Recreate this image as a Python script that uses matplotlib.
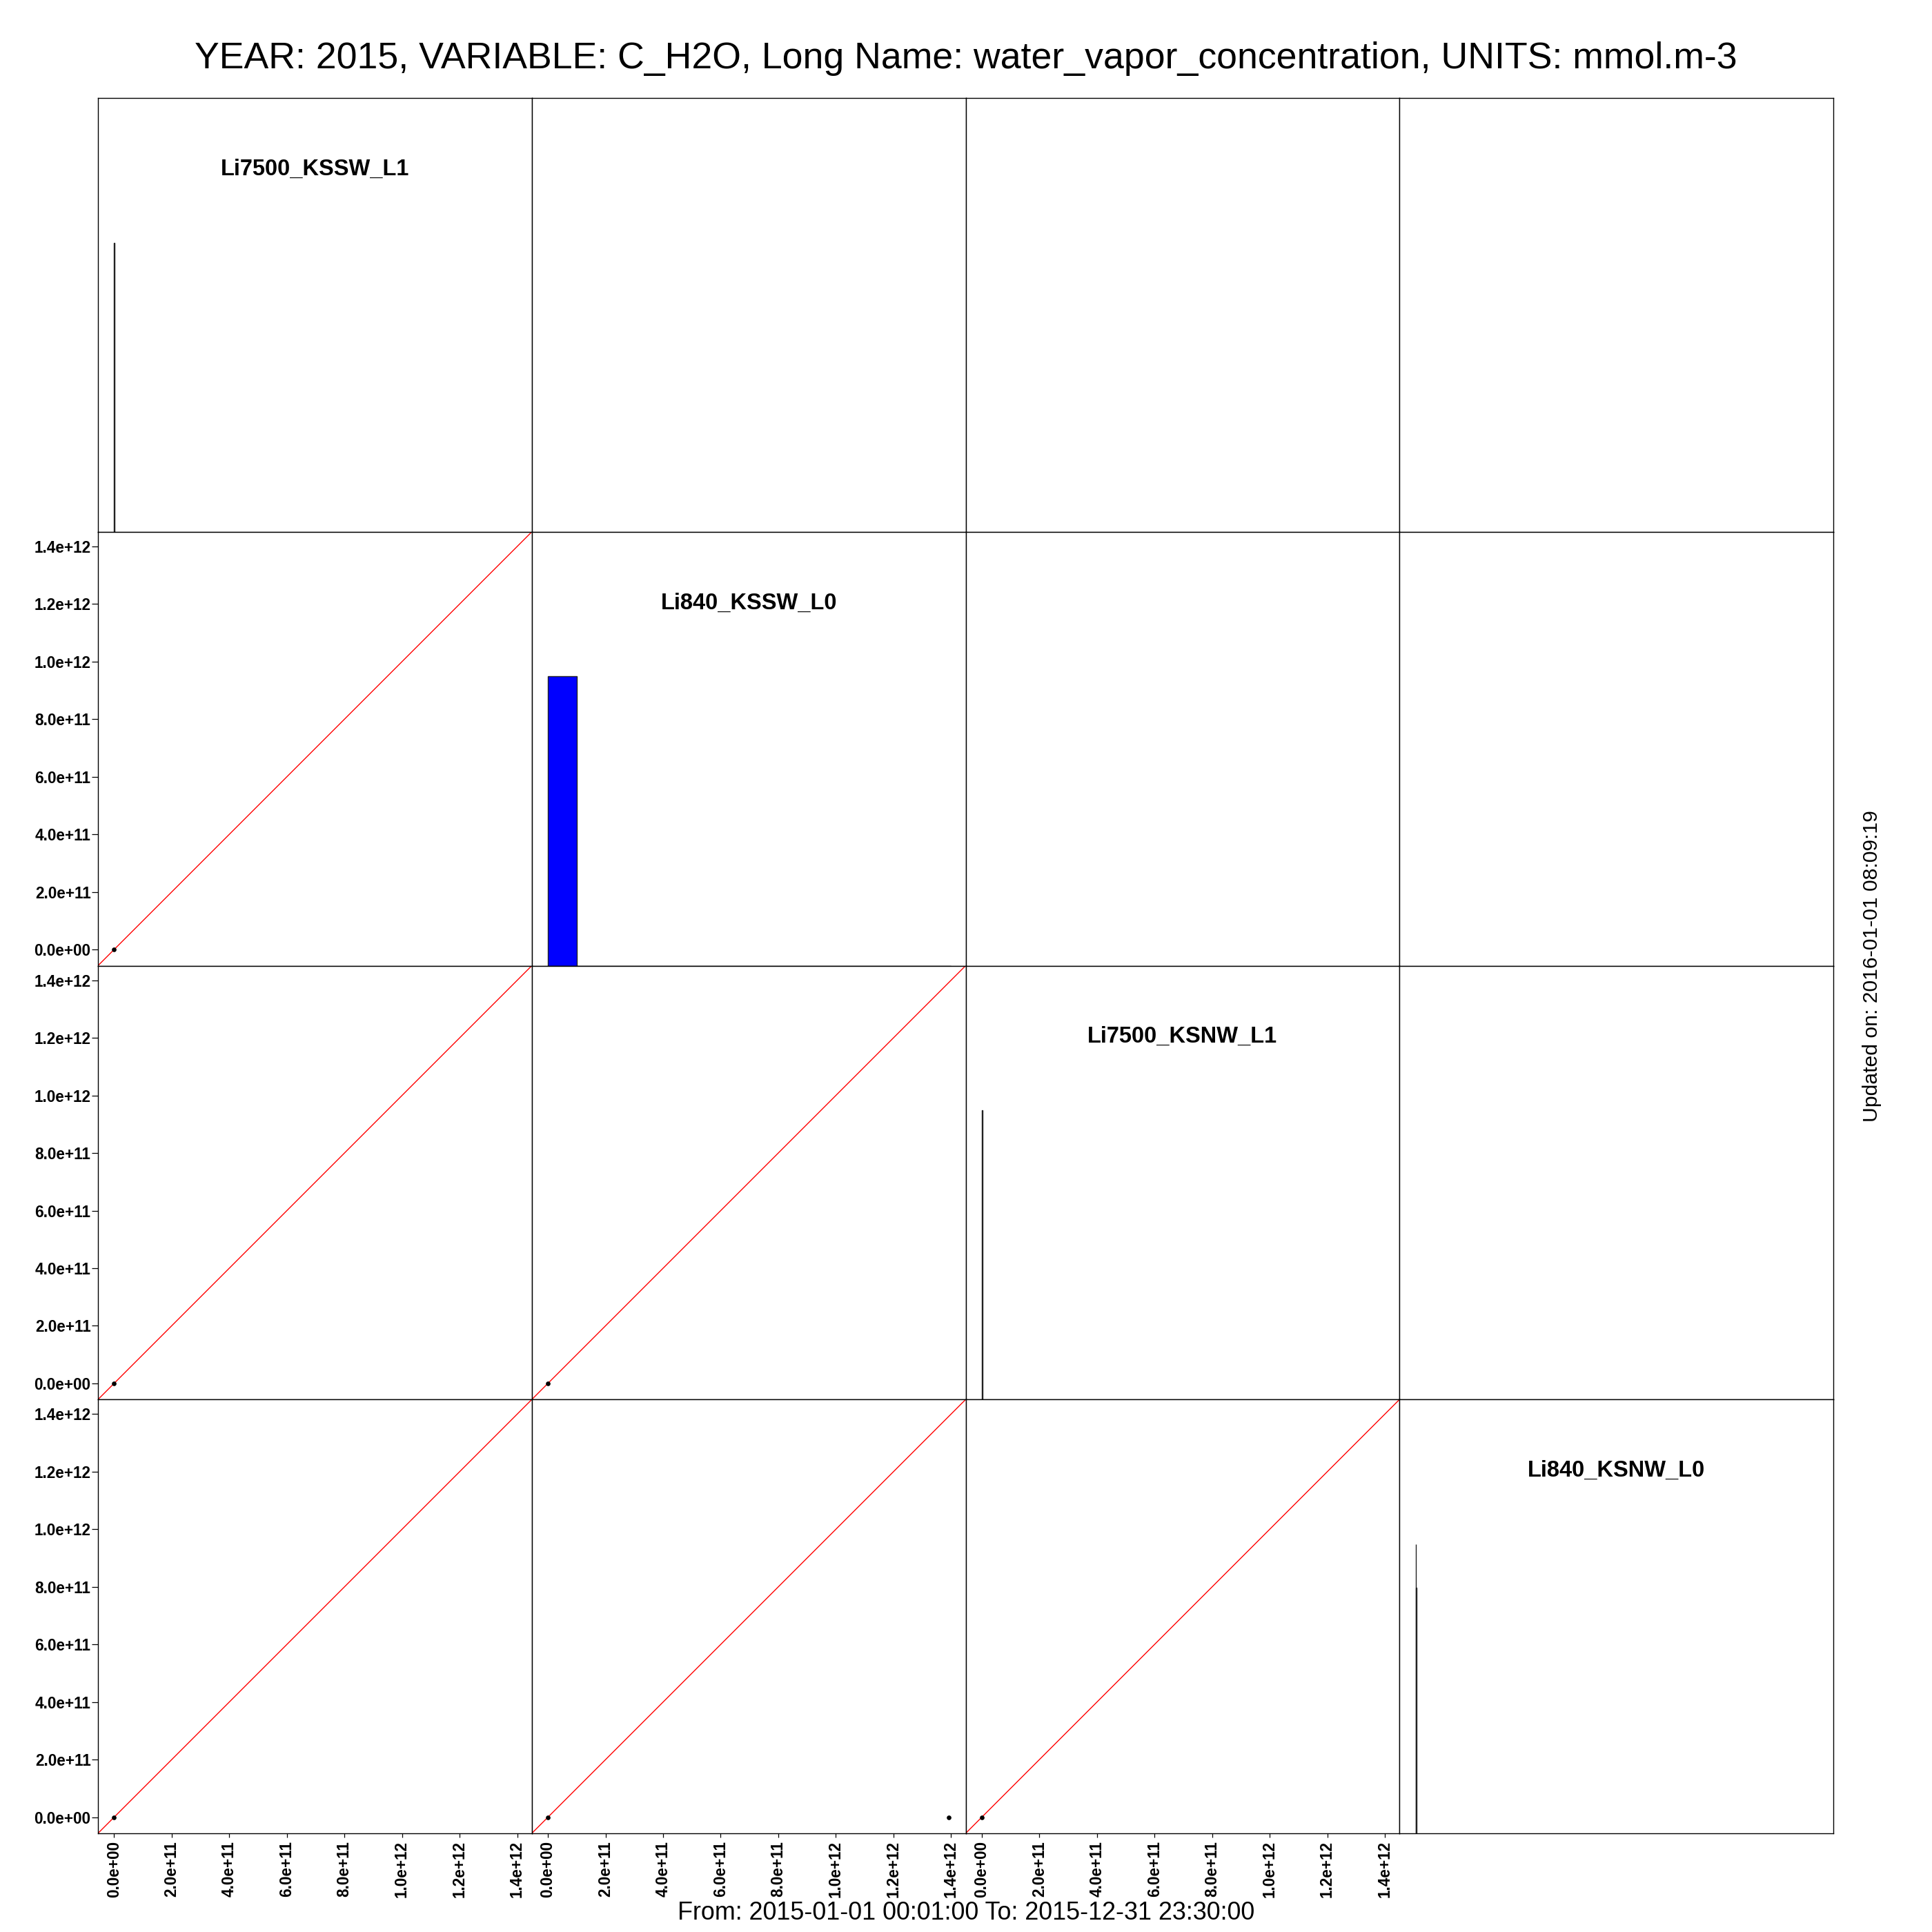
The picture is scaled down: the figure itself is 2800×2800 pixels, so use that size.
import numpy as np
import matplotlib
matplotlib.use("Agg")
import matplotlib.pyplot as plt

plt.rcParams['font.family'] = ['Liberation Sans', 'DejaVu Sans']

# ---------------- data ----------------
variables = ["Li7500_KSSW_L1", "Li840_KSSW_L0", "Li7500_KSNW_L1", "Li840_KSNW_L0"]
var_min = [0.0, 0.0, 0.0, 0.0]
var_max = [1.395e12, 1.395e12, 1.395e12, 1.395e12]

tick_values = [0.0, 2.0e11, 4.0e11, 6.0e11, 8.0e11, 1.0e12, 1.2e12, 1.4e12]
tick_labels = ["0.0e+00", "2.0e+11", "4.0e+11", "6.0e+11",
               "8.0e+11", "1.0e+12", "1.2e+12", "1.4e+12"]

# lower-triangle scatter points: key (row, col); x = column variable, y = row variable
scatter_x = {
    (1, 0): [0.0],
    (2, 0): [0.0],
    (2, 1): [0.0],
    (3, 0): [0.0],
    (3, 1): [0.0, 1.393e12],
    (3, 2): [0.0],
}
scatter_y = {
    (1, 0): [0.0],
    (2, 0): [0.0],
    (2, 1): [0.0],
    (3, 0): [0.0],
    (3, 1): [0.0, 0.0],
    (3, 2): [0.0],
}

# diagonal histograms: bin edges and counts relative to the largest bin
hist_edges = [
    [0.0, 2.0e9],
    [0.0, 1e11, 2e11, 3e11, 4e11, 5e11, 6e11, 7e11, 8e11, 9e11,
     1.0e12, 1.1e12, 1.2e12, 1.3e12, 1.4e12],
    [0.0, 2.0e9],
    [0.0, 1.5e9, 3.0e9],
]
hist_heights = [
    [1.0],
    [1.0, 0.0, 0.0, 0.0, 0.0, 0.0, 0.0, 0.0, 0.0, 0.0, 0.0, 0.0, 0.0, 0.0],
    [1.0],
    [1.0, 0.85],
]

title_text = "YEAR: 2015, VARIABLE: C_H2O, Long Name: water_vapor_concentration, UNITS: mmol.m-3"
bottom_text = "From: 2015-01-01 00:01:00 To: 2015-12-31 23:30:00"
right_text = "Updated on: 2016-01-01 08:09:19"

# ---------------- figure ----------------
W = 2800.0
fig = plt.figure(figsize=(28, 28), dpi=100)
n = len(variables)
left, right = 142 / W, 2657 / W
top, bottom = 1 - 142 / W, 1 - 2657 / W
gs = fig.add_gridspec(n, n, left=left, right=right, top=top, bottom=bottom,
                      wspace=0, hspace=0)

def lims(k):
    pad = 0.04 * (var_max[k] - var_min[k])
    return var_min[k] - pad, var_max[k] + pad

for i in range(n):
    for j in range(n):
        ax = fig.add_subplot(gs[i, j])
        ax.set_xlim(*lims(j))
        for s in ax.spines.values():
            s.set_linewidth(1.0)
            s.set_color("black")
        ax.tick_params(direction="out", width=0.9, labelsize=16.3, colors="black")
        if i == j:
            edges = np.array(hist_edges[i])
            h = np.array(hist_heights[i])
            ax.bar(edges[:-1], h, width=np.diff(edges), align="edge",
                   color="#0000FF", edgecolor="#222222", linewidth=1.0)
            ax.set_ylim(0, 1.5)
            ax.text(0.5, 0.836, variables[i], transform=ax.transAxes,
                    ha="center", va="center", fontsize=23.5, fontweight="bold")
        else:
            ax.set_ylim(*lims(i))
            if i > j:
                ax.axline((0.0, 0.0), slope=1.0, color="red", linewidth=1.0)
                ax.plot(scatter_x[(i, j)], scatter_y[(i, j)], "o", color="black",
                        markersize=3.8, linestyle="none")
        # axes: y on left for column 0 (not diag), x on bottom for last row (not diag)
        if j == 0 and i != j:
            ax.set_yticks(tick_values)
            ax.set_yticklabels(tick_labels, fontweight="bold")
            ax.tick_params(axis="y", length=6.5, pad=1.0)
        else:
            ax.set_yticks([])
        if i == n - 1 and i != j:
            ax.set_xticks(tick_values)
            ax.set_xticklabels(tick_labels, fontweight="bold", rotation=90)
            ax.tick_params(axis="x", length=4.3, pad=3.6)
        else:
            ax.set_xticks([])

fig.text(0.5, 1 - 99 / W, title_text, ha="center", va="baseline", fontsize=38.6)
fig.text(0.5, 1 - 2782 / W, bottom_text, ha="center", va="baseline", fontsize=25.8)
fig.text(2713 / W, 0.5, right_text, ha="center", va="center", rotation=90,
         fontsize=21.7)

fig.savefig("out.png", dpi=100, facecolor="white")
